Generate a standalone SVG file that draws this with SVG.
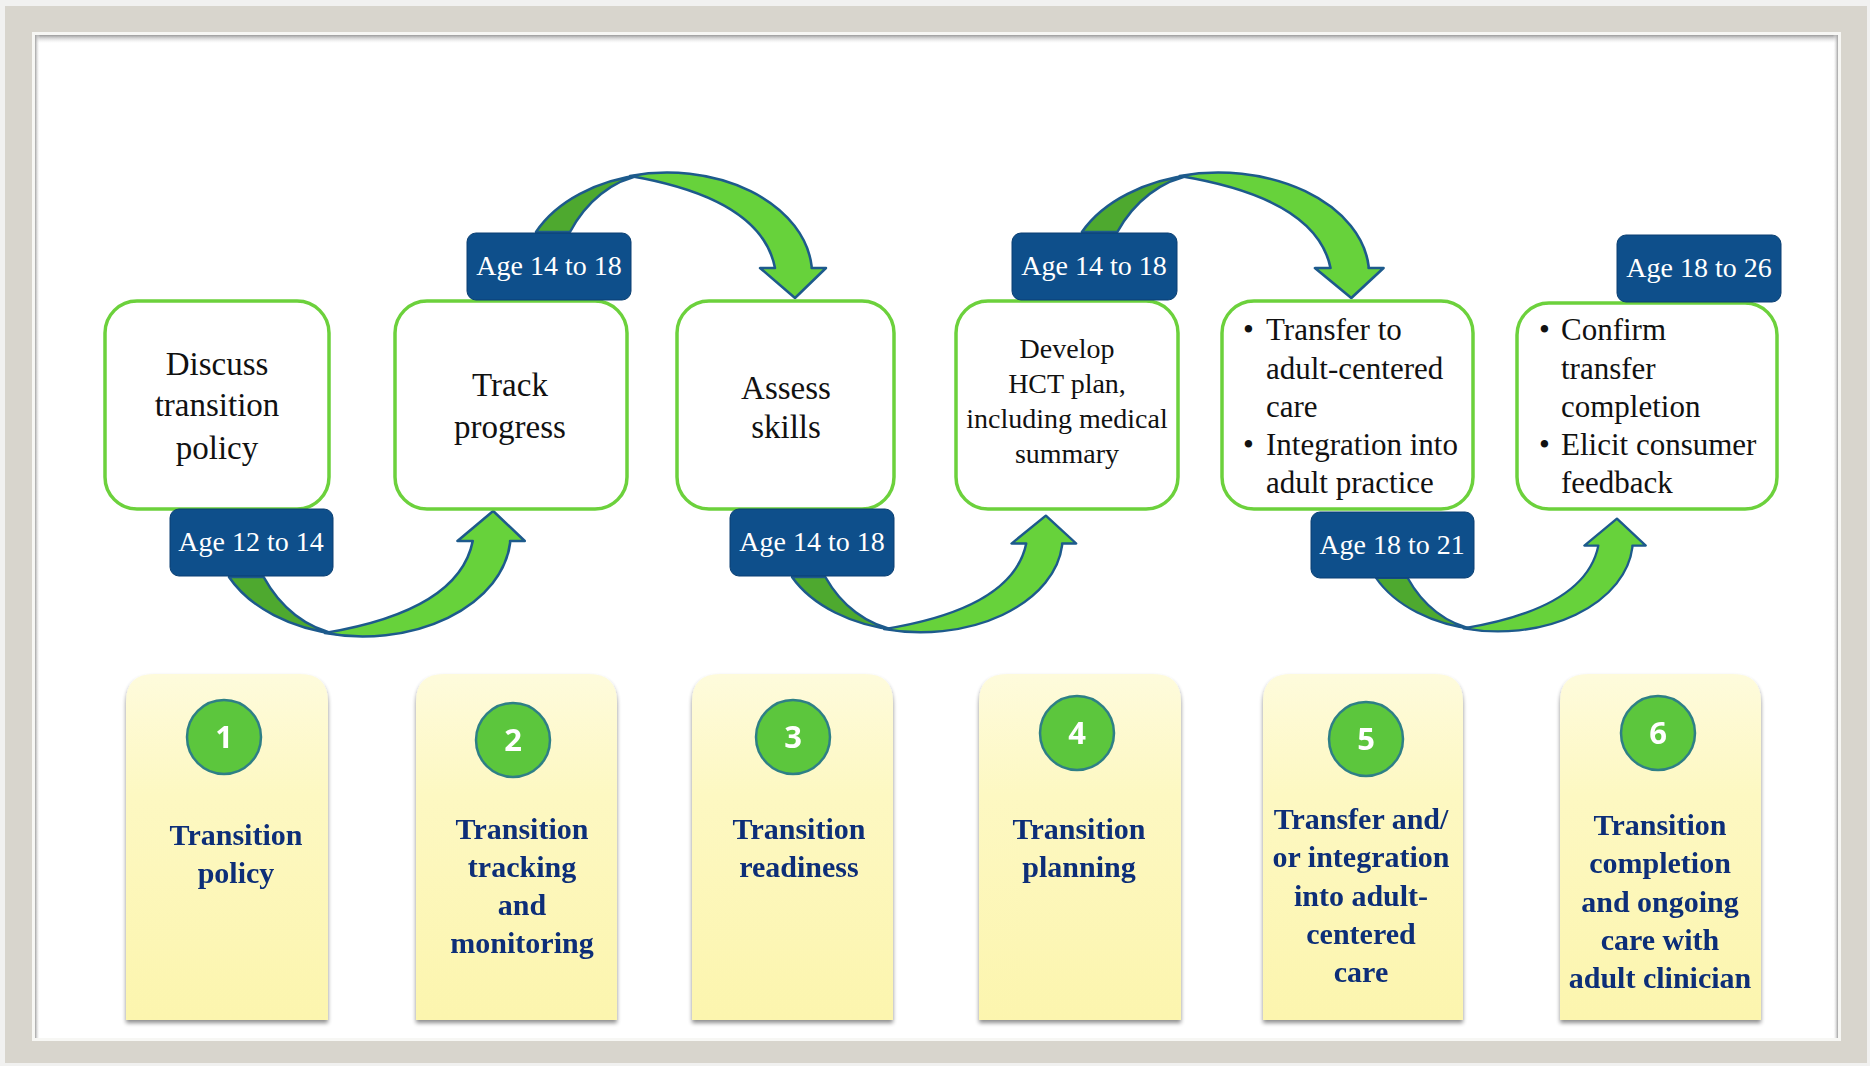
<svg xmlns="http://www.w3.org/2000/svg" width="1870" height="1066" viewBox="0 0 1870 1066">
<defs>
<style>
.box{fill:#ffffff;stroke:#6cd13c;stroke-width:3.5}
.badge{fill:#0e4f8b;stroke:#0a3f72;stroke-width:1}
.bt{font-family:"Liberation Serif",serif;font-size:28px;fill:#ffffff;text-anchor:middle}
.tt{font-family:"Liberation Serif",serif;font-size:33px;fill:#111111;text-anchor:middle}
.tm{font-family:"Liberation Serif",serif;font-size:28px;fill:#111111;text-anchor:middle}
.tb{font-family:"Liberation Serif",serif;font-size:31px;fill:#111111}
.card{fill:url(#cardg)}
.ct{font-family:"Liberation Serif",serif;font-weight:bold;font-size:30px;fill:#0c2f78;text-anchor:middle}
.circ{fill:#5cc63c;stroke:#2f7f86;stroke-width:2.5}
.num{font-family:"Open Sans","Liberation Sans",sans-serif;font-weight:bold;font-size:31px;fill:#ffffff;text-anchor:middle}
.ad{fill:#4ea92f;stroke:#1d5a8c;stroke-width:2.5;stroke-linejoin:round}
.al{fill:#67d23b;stroke:#1d5a8c;stroke-width:2.5;stroke-linejoin:round}
</style>
<linearGradient id="cardg" x1="0" y1="0" x2="0" y2="1">
<stop offset="0" stop-color="#fefbdc"/>
<stop offset="0.35" stop-color="#fdf8c2"/>
<stop offset="1" stop-color="#fcf5ae"/>
</linearGradient>
<linearGradient id="topsh" x1="0" y1="0" x2="0" y2="1">
<stop offset="0" stop-color="#9a9a9a"/>
<stop offset="1" stop-color="#ffffff" stop-opacity="0"/>
</linearGradient>
<linearGradient id="leftsh" x1="0" y1="0" x2="1" y2="0">
<stop offset="0" stop-color="#a0a0a0"/>
<stop offset="1" stop-color="#ffffff" stop-opacity="0"/>
</linearGradient>
<linearGradient id="rightsh" x1="1" y1="0" x2="0" y2="0">
<stop offset="0" stop-color="#a0a0a0"/>
<stop offset="1" stop-color="#ffffff" stop-opacity="0"/>
</linearGradient>
<filter id="cardshadow" x="-10%" y="-10%" width="120%" height="120%">
<feGaussianBlur in="SourceAlpha" stdDeviation="2"/>
<feOffset dx="0" dy="3" result="b"/>
<feComponentTransfer><feFuncA type="linear" slope="0.45"/></feComponentTransfer>
<feMerge><feMergeNode/><feMergeNode in="SourceGraphic"/></feMerge>
</filter>
<g id="arrow">
<path class="ad" d="M536,232 A145,102 0 0 1 644,174.6 C612,180 586,202 570,232 Z"/>
<path class="al" d="M630,176 A145,102 0 0 1 811.6,266 L811.6,268 L826,268 L795,298 L760,268 L775,268 C768,232 735,194 630,176 Z"/>
</g>
</defs>

<!-- frame -->
<rect x="0" y="0" width="1870" height="1066" fill="#f1f1f0"/>
<rect x="5" y="6" width="1862" height="1057" fill="#d8d5cd"/>
<rect x="32" y="32" width="1809" height="1009" fill="#f7f7f4"/>
<rect x="35" y="35" width="1803" height="1003" fill="#ffffff"/>
<rect x="35" y="35" width="1803" height="9" fill="url(#topsh)"/>
<rect x="35" y="35" width="5" height="1003" fill="url(#leftsh)"/>
<rect x="1833" y="35" width="5" height="1003" fill="url(#rightsh)"/>

<!-- connectors -->
<g id="connectors">
<use href="#arrow"/>
<use href="#arrow" transform="translate(1083,232) scale(1.04,1) translate(-537,-232)"/>
<use href="#arrow" transform="translate(230,577) scale(1.02,-1) translate(-537,-232)"/>
<use href="#arrow" transform="translate(793,577) scale(0.98,-0.93) translate(-537,-232)"/>
<use href="#arrow" transform="translate(1377,578) scale(0.93,-0.9) translate(-537,-232)"/>
</g>

<!-- top nodes -->
<g id="node-discuss">
<rect class="box" x="105" y="301" width="224" height="208" rx="32"/>
<text class="tt" x="217" y="375">Discuss</text>
<text class="tt" x="217" y="416">transition</text>
<text class="tt" x="217" y="459">policy</text>
</g>
<g id="node-track">
<rect class="box" x="395" y="301" width="232" height="208" rx="32"/>
<text class="tt" x="510" y="396">Track</text>
<text class="tt" x="510" y="438">progress</text>
</g>
<g id="node-assess">
<rect class="box" x="677" y="301" width="217" height="208" rx="32"/>
<text class="tt" x="786" y="399">Assess</text>
<text class="tt" x="786" y="438">skills</text>
</g>
<g id="node-develop">
<rect class="box" x="956" y="301" width="222" height="208" rx="32"/>
<text class="tm" x="1067" y="358">Develop</text>
<text class="tm" x="1067" y="393">HCT plan,</text>
<text class="tm" x="1067" y="428">including medical</text>
<text class="tm" x="1067" y="463">summary</text>
</g>
<g id="node-transfer">
<rect class="box" x="1222" y="301" width="251" height="208" rx="32"/>
<text class="tb" x="1243" y="340">•</text>
<text class="tb" x="1266" y="340">Transfer to</text>
<text class="tb" x="1266" y="379">adult-centered</text>
<text class="tb" x="1266" y="417">care</text>
<text class="tb" x="1243" y="455">•</text>
<text class="tb" x="1266" y="455">Integration into</text>
<text class="tb" x="1266" y="493">adult practice</text>
</g>
<g id="node-confirm">
<rect class="box" x="1517" y="303" width="260" height="206" rx="32"/>
<text class="tb" x="1539" y="340">•</text>
<text class="tb" x="1561" y="340">Confirm</text>
<text class="tb" x="1561" y="379">transfer</text>
<text class="tb" x="1561" y="417">completion</text>
<text class="tb" x="1539" y="455">•</text>
<text class="tb" x="1561" y="455">Elicit consumer</text>
<text class="tb" x="1561" y="493">feedback</text>
</g>

<!-- age badges -->
<g id="badge-12-14">
<rect class="badge" x="170" y="509" width="163" height="67" rx="9"/>
<text class="bt" x="251" y="551">Age 12 to 14</text>
</g>
<g id="badge-14-18-a">
<rect class="badge" x="467" y="233" width="164" height="67" rx="9"/>
<text class="bt" x="549" y="275">Age 14 to 18</text>
</g>
<g id="badge-14-18-b">
<rect class="badge" x="730" y="509" width="164" height="67" rx="9"/>
<text class="bt" x="812" y="551">Age 14 to 18</text>
</g>
<g id="badge-14-18-c">
<rect class="badge" x="1012" y="233" width="165" height="67" rx="9"/>
<text class="bt" x="1094" y="275">Age 14 to 18</text>
</g>
<g id="badge-18-21">
<rect class="badge" x="1311" y="512" width="163" height="66" rx="9"/>
<text class="bt" x="1392" y="554">Age 18 to 21</text>
</g>
<g id="badge-18-26">
<rect class="badge" x="1617" y="235" width="164" height="67" rx="9"/>
<text class="bt" x="1699" y="277">Age 18 to 26</text>
</g>

<!-- bottom cards -->
<g id="card-1" filter="url(#cardshadow)">
<path class="card" d="M126,1020 V702 Q126,674 154,674 H300 Q328,674 328,702 V1020 Z"/>
<circle class="circ" cx="224" cy="737" r="37"/>
<text class="num" x="224" y="748">1</text>
<text class="ct" x="236" y="845">Transition</text>
<text class="ct" x="236" y="883">policy</text>
</g>
<g id="card-2" filter="url(#cardshadow)">
<path class="card" d="M416,1020 V702 Q416,674 444,674 H589 Q617,674 617,702 V1020 Z"/>
<circle class="circ" cx="513" cy="740" r="37"/>
<text class="num" x="513" y="751">2</text>
<text class="ct" x="522" y="839">Transition</text>
<text class="ct" x="522" y="877">tracking</text>
<text class="ct" x="522" y="915">and</text>
<text class="ct" x="522" y="953">monitoring</text>
</g>
<g id="card-3" filter="url(#cardshadow)">
<path class="card" d="M692,1020 V702 Q692,674 720,674 H865 Q893,674 893,702 V1020 Z"/>
<circle class="circ" cx="793" cy="737" r="37"/>
<text class="num" x="793" y="748">3</text>
<text class="ct" x="799" y="839">Transition</text>
<text class="ct" x="799" y="877">readiness</text>
</g>
<g id="card-4" filter="url(#cardshadow)">
<path class="card" d="M979,1020 V702 Q979,674 1007,674 H1153 Q1181,674 1181,702 V1020 Z"/>
<circle class="circ" cx="1077" cy="733" r="37"/>
<text class="num" x="1077" y="744">4</text>
<text class="ct" x="1079" y="839">Transition</text>
<text class="ct" x="1079" y="877">planning</text>
</g>
<g id="card-5" filter="url(#cardshadow)">
<path class="card" d="M1263,1020 V702 Q1263,674 1291,674 H1435 Q1463,674 1463,702 V1020 Z"/>
<circle class="circ" cx="1366" cy="739" r="37"/>
<text class="num" x="1366" y="750">5</text>
<text class="ct" x="1361" y="829">Transfer and/</text>
<text class="ct" x="1361" y="867">or integration</text>
<text class="ct" x="1361" y="906">into adult-</text>
<text class="ct" x="1361" y="944">centered</text>
<text class="ct" x="1361" y="982">care</text>
</g>
<g id="card-6" filter="url(#cardshadow)">
<path class="card" d="M1560,1020 V702 Q1560,674 1588,674 H1733 Q1761,674 1761,702 V1020 Z"/>
<circle class="circ" cx="1658" cy="733" r="37"/>
<text class="num" x="1658" y="744">6</text>
<text class="ct" x="1660" y="835">Transition</text>
<text class="ct" x="1660" y="873">completion</text>
<text class="ct" x="1660" y="912">and ongoing</text>
<text class="ct" x="1660" y="950">care with</text>
<text class="ct" x="1660" y="988">adult clinician</text>
</g>
</svg>
